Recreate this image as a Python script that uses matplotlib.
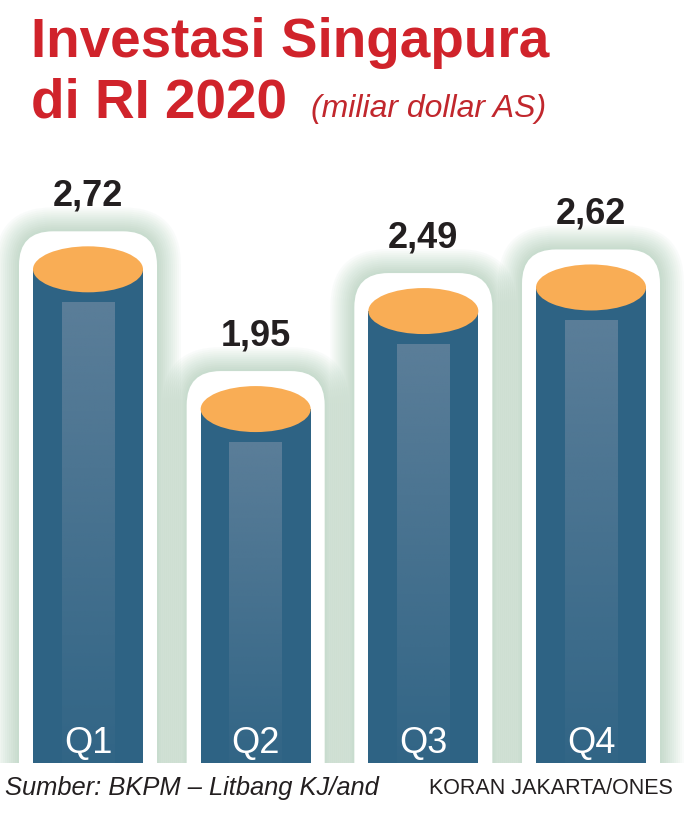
import numpy as np
import matplotlib
matplotlib.use('Agg')
import matplotlib.pyplot as plt
from matplotlib import font_manager
from matplotlib.patches import FancyBboxPatch, Rectangle, Ellipse
from matplotlib.colors import to_rgb

# ── Données ────────────────────────────────────────────────────────────
kuartal = ['Q1', 'Q2', 'Q3', 'Q4']
nilai = [2.72, 1.95, 2.49, 2.62]

judul_1 = 'Investasi Singapura'
judul_2 = 'di RI 2020'
satuan = '(miliar dollar AS)'
sumber = 'Sumber: BKPM \u2013 Litbang KJ/and'
kredit = 'KORAN JAKARTA/ONES'

# ── Couleurs ───────────────────────────────────────────────────────────
MERAH = '#d0232b'
BIRU = '#2e6384'
GARIS = '#6a87a0'
ORANYE = '#f9ad55'
HIJAU = '#6fa880'
HITAM = '#231f20'

names = {f.name for f in font_manager.fontManager.ttflist}
SANS = 'Liberation Sans'
NARROW = 'Liberation Sans Narrow' if 'Liberation Sans Narrow' in names else None

W, H = 697, 819
fig = plt.figure(figsize=(W / 100, H / 100), dpi=100)
ax = fig.add_axes([0, 0, 1, 1])
ax.set_axis_off()

# échelle : pixels par unité
px_x, px_y = 167.67, 181.5
x0, base = 88, 763
ux, uy = 1 / px_x, 1 / px_y
asp = uy / ux

hw = 55 * ux          # demi-largeur du cylindre
eh = 46 * uy          # hauteur de l'ellipse
ow = 69 * ux          # demi-largeur du contour blanc
otop = 38 * uy        # dépassement du contour au-dessus du centre de l'ellipse
rad = 34 * ux

# ── Cylindres ──────────────────────────────────────────────────────────
for i, v in enumerate(nilai):
    # halo vert
    for k in range(1, 13):
        p = 2 * k
        g = FancyBboxPatch((i - ow - p * ux, -0.5), 2 * (ow + p * ux),
                           v + otop + p * uy + 0.5,
                           boxstyle=f"round,pad=0,rounding_size={rad + p * ux}",
                           mutation_aspect=asp, fc=HIJAU, ec='none',
                           alpha=0.036, zorder=1)
        ax.add_patch(g)
    # contour blanc
    ax.add_patch(FancyBboxPatch((i - ow, -0.5), 2 * ow, v + otop + 0.5,
                                boxstyle=f"round,pad=0,rounding_size={rad}",
                                mutation_aspect=asp, fc='white', ec='none',
                                zorder=3))
    # corps
    ax.add_patch(Rectangle((i - hw, 0), 2 * hw, v, fc=BIRU, ec='none', zorder=4))
    # reflet central en dégradé
    n = 200
    rgba = np.zeros((n, 1, 4))
    rgba[..., :3] = to_rgb(GARIS)
    rgba[:, 0, 3] = np.linspace(0.75, 0.06, n)
    top = v - 33 * uy
    ax.imshow(rgba, extent=(i - 26.5 * ux, i + 26.5 * ux, 0, top),
              origin='upper', aspect='auto', interpolation='bilinear', zorder=5)
    # dessus
    ax.add_patch(Ellipse((i, v), 2 * hw, eh, fc=ORANYE, ec='none', zorder=6))
    # valeur
    ax.text(i, v + 64 * uy, f"{v:.2f}".replace('.', ','), ha='center',
            va='baseline', fontsize=26, fontweight='bold', color=HITAM,
            family=SANS, zorder=7)
    # étiquette
    ax.text(i, 10 * uy, kuartal[i], ha='center', va='baseline',
            fontsize=28 if NARROW else 26, color='white',
            family=NARROW or SANS, zorder=7)

# masque blanc sous la base
ax.add_patch(Rectangle((-1, -1), 6, 1, fc='white', ec='none', zorder=2))

ax.set_xlim(-x0 / px_x, (W - x0) / px_x)
ax.set_ylim((base - H) / px_y, base / px_y)


# ── Titres et pied ─────────────────────────────────────────────────────
def fx(px):
    return px / W


def fy(px):
    return 1 - px / H


fig.text(fx(31), fy(57), judul_1, fontsize=39.5, fontweight='bold',
         color=MERAH, family=SANS, va='baseline')
fig.text(fx(31), fy(117), judul_2, fontsize=39.5, fontweight='bold',
         color=MERAH, family=SANS, va='baseline')
fig.text(fx(311), fy(117), satuan, fontsize=28 if NARROW else 23,
         style='italic', color='#c1272d', family=NARROW or SANS, va='baseline')

fig.text(fx(5), fy(795), sumber, fontsize=18.4, style='italic', color=HITAM,
         family=SANS, va='baseline')
fig.text(fx(673), fy(794), kredit, fontsize=17.5 if NARROW else 15.5,
         color=HITAM, family=NARROW or SANS, va='baseline', ha='right')

fig.savefig('out.png', dpi=100, facecolor='white')
